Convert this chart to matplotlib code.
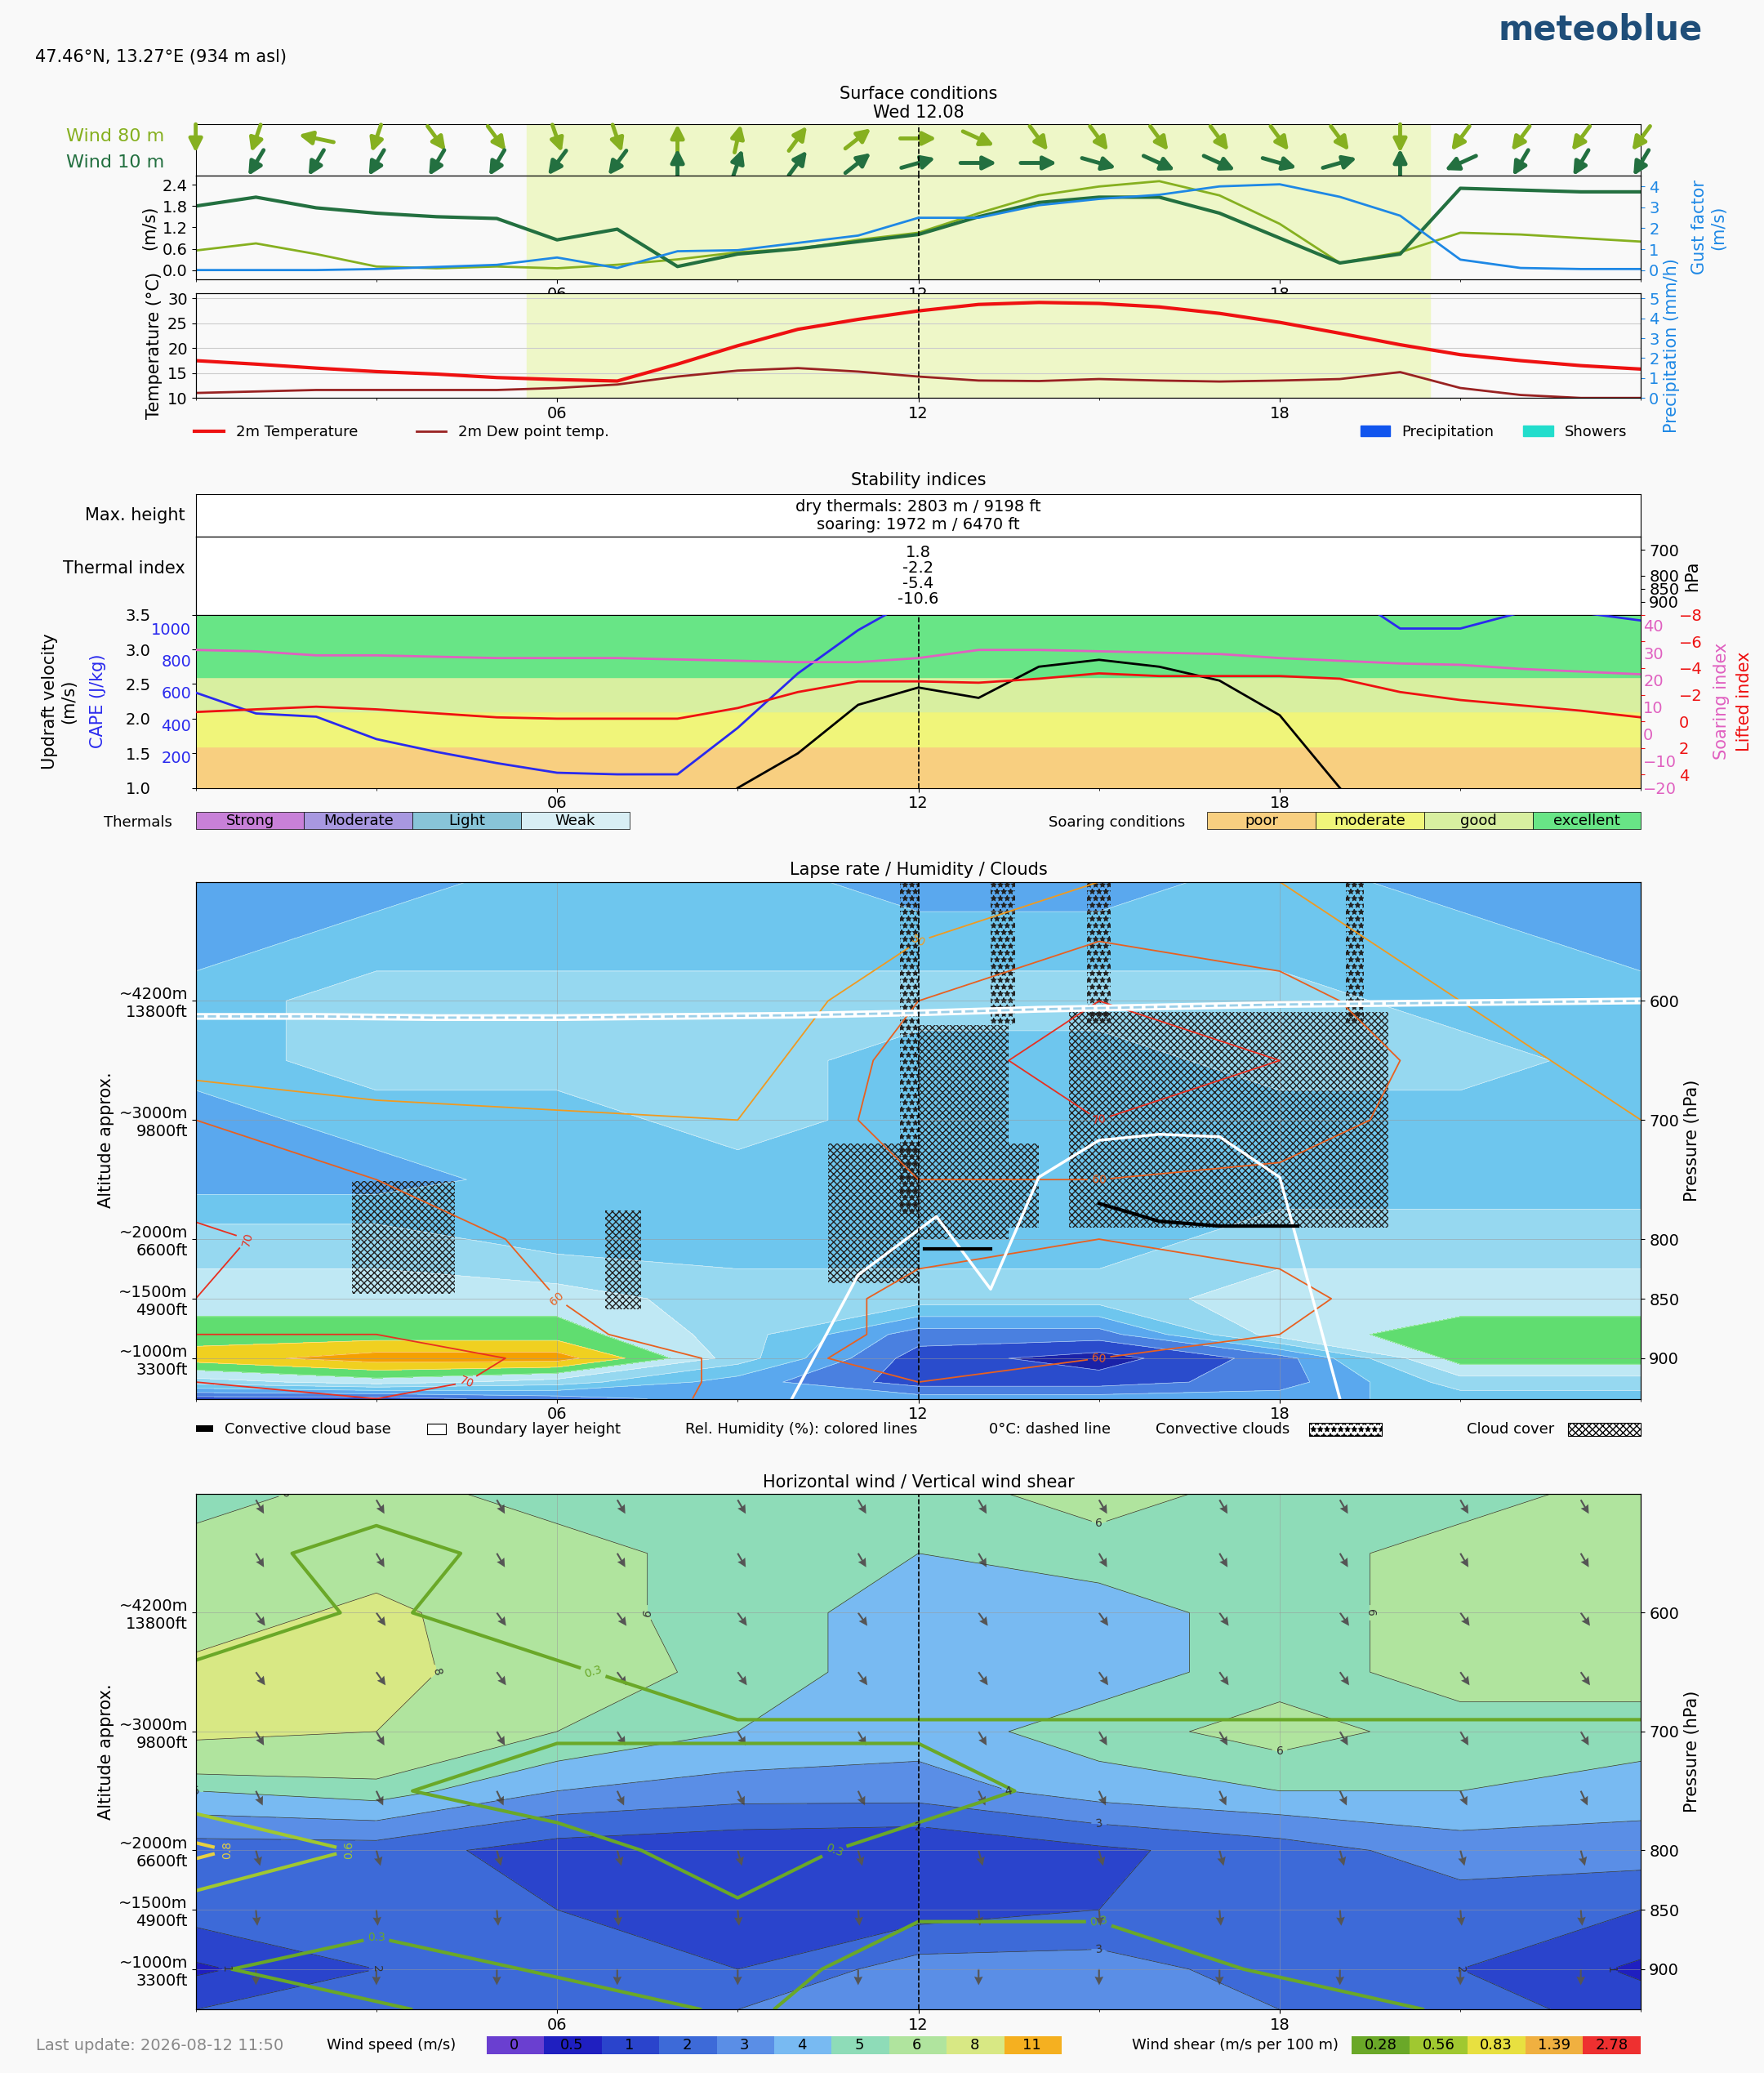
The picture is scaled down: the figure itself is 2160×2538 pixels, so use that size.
import numpy as np
import matplotlib
matplotlib.use("Agg")
import matplotlib.pyplot as plt
from matplotlib.patches import Rectangle, Patch

plt.rcParams['font.family'] = ['DejaVu Sans']
FS = 14

hours = list(range(25))
wind10 = [1.8,2.05,1.75,1.6,1.5,1.45,0.85,1.15,0.1,0.45,0.6,0.8,1.0,1.5,1.9,2.05,2.05,1.6,0.9,0.2,0.45,2.3,2.25,2.2,2.2]
wind80 = [0.55,0.75,0.45,0.1,0.05,0.1,0.05,0.15,0.3,0.5,0.6,0.85,1.05,1.6,2.1,2.35,2.5,2.1,1.3,0.2,0.5,1.05,1.0,0.9,0.8]
gust = [0,0,0,0.05,0.15,0.25,0.6,0.1,0.9,0.95,1.3,1.65,2.5,2.5,3.1,3.4,3.6,4.0,4.1,3.5,2.6,0.5,0.1,0.05,0.05]
dir80 = [270,255,165,255,300,300,285,285,90,80,60,45,0,330,300,300,300,300,300,300,270,240,240,240,240]
dir10 = [245,245,245,245,245,245,240,240,90,75,60,45,20,0,0,340,330,330,340,20,90,210,245,245,245]
temp = [17.5,16.8,16,15.3,14.8,14.1,13.7,13.4,16.8,20.5,23.8,25.8,27.5,28.8,29.2,29.0,28.3,27.0,25.2,23.0,20.7,18.7,17.5,16.5,15.8]
dew = [11,11.3,11.6,11.6,11.6,11.6,12,12.7,14.3,15.5,16,15.3,14.3,13.5,13.4,13.8,13.5,13.3,13.5,13.8,15.2,12,10.6,10,10]
cape = [600,470,450,310,230,160,100,90,90,380,720,990,1200,1300,1300,1300,1300,1300,1300,1250,1000,1000,1100,1100,1050]
soaring = [31,30.5,29,29,28.5,28,28,28,27.5,27,26.5,26.5,28,31,31,30.5,30,29.5,28,27,26,25.5,24,23,22]
lifted = [-0.7,-0.9,-1.1,-0.9,-0.6,-0.3,-0.2,-0.2,-0.2,-1,-2.2,-3.0,-3.0,-2.9,-3.2,-3.6,-3.4,-3.4,-3.4,-3.2,-2.2,-1.6,-1.2,-0.8,-0.3]
upd_h = [9,10,11,12,13,14,15,16,17,18,19]
updraft = [1.0,1.5,2.2,2.45,2.3,2.75,2.85,2.75,2.55,2.05,1.0]

plev = [500,550,600,650,700,750,800,850,880,900,920,934]
lhours = [0,3,6,9,12,15,18,21,24]
lapse = np.array([
 [3,3,4,4,3,3,4,3,3],
 [3,4,4,4,4,4,4,4,3],
 [4,5,5,5,5,5,5,4,4],
 [4,5,5,5,4,4,5,5,4],
 [3,4,4,5,4,4,4,4,4],
 [3,3,4,4,4,4,4,4,4],
 [5,5,4,4,4,4,5,5,5],
 [6,6,6,5,5,5,6,6,6],
 [7,7,7,5,2,2,6,7,7],
 [8,9,9,5,1,0,2,7,7],
 [5,6,5,3,1,1,2,5,5],
 [1,1,2,3,3,3,3,4,4]])
rh = np.array([
 [30,30,30,30,40,50,50,40,30],
 [30,30,30,35,50,60,55,45,35],
 [35,35,35,40,60,70,65,50,40],
 [45,40,40,45,65,75,70,55,45],
 [60,55,52,50,65,70,65,55,50],
 [65,60,55,55,60,60,58,55,52],
 [72,65,58,55,58,60,58,55,52],
 [70,65,60,55,62,65,62,55,52],
 [70,70,62,55,62,62,60,55,52],
 [72,75,68,58,62,60,58,55,52],
 [70,72,68,58,60,58,56,54,52],
 [68,70,66,58,58,56,55,54,52]])
fz_h = [0,2,4,6,8,10,12,14,16,18,20,22,24]
fz_p = [613,613,614,614,613,612,610,607,605,603,602,601,600]
blh_h = [9.9,11,12.3,13.2,14,15,16,17,18,19]
blh_p = [934,830,781,842,748,717,712,714,748,934]

wplev = [500,550,600,650,700,750,800,850,900,934]
wspd = np.array([
 [5.5,6.5,5.5,5.5,5.5,6.5,5.5,5.5,6.5],
 [6.5,7,6.5,5.5,5,5.5,5.5,6.5,6.5],
 [7,8.5,6.5,5.5,4.5,4.5,5.5,6.5,6.5],
 [8.5,8.5,7,5.5,4.5,4.5,5.5,6.5,6.5],
 [8.5,8,6,5,4.5,5.5,6.5,5.5,5.5],
 [5,5.5,4,3.5,3.5,4.5,5,5,4.5],
 [2.5,2.5,1.5,1.2,1.0,1.8,2.5,3.5,3.5],
 [2.5,2.5,2,1.5,1.5,2,2.5,2.5,2],
 [0.8,2,2.5,2,3.5,3.5,2.5,2,0.8],
 [2,2.5,2.5,3,3.5,3.5,3,2.5,1.5]])
shear = np.array([
 [0.1,0.2,0.1,0.1,0.1,0.1,0.1,0.1,0.1],
 [0.2,0.35,0.2,0.1,0.1,0.1,0.1,0.1,0.1],
 [0.2,0.3,0.2,0.1,0.1,0.1,0.1,0.1,0.1],
 [0.3,0.35,0.3,0.2,0.2,0.2,0.2,0.2,0.2],
 [0.3,0.3,0.3,0.3,0.3,0.3,0.3,0.3,0.3],
 [0.35,0.3,0.2,0.2,0.2,0.35,0.4,0.3,0.3],
 [0.9,0.5,0.35,0.2,0.35,0.3,0.3,0.4,0.4],
 [0.4,0.35,0.3,0.3,0.3,0.3,0.3,0.4,0.35],
 [0.3,0.2,0.3,0.35,0.2,0.2,0.3,0.3,0.35],
 [0.35,0.3,0.2,0.3,0.2,0.2,0.2,0.3,0.4]])
arrow_h = [1,3,5,7,9,11,13,15,17,19,21,23]
arrow_p = [505,550,600,650,700,750,800,850,900]
arrow_dir = [-60,-60,-55,-55,-60,-65,-75,-85,-90]

W, H = 1334, 1568
fig = plt.figure(figsize=(21.6, 25.38), dpi=100, facecolor='#f9f9f9')
def rect(y0, y1):
    return [148/W, 1 - y1/H, (1241-148)/W, (y1-y0)/H]

def xsetup(ax, labels=True):
    ax.set_xlim(0, 24)
    ax.set_xticks([6, 12, 18])
    ax.set_xticklabels(['06', '12', '18'] if labels else [])
    ax.set_xticks(range(0, 25, 3), minor=True)
    ax.tick_params(labelsize=FS)
    ax.axvline(12, color='k', ls='--', lw=1.2, zorder=20)

fig.text(0.02, 0.97, '47.46°N, 13.27°E (934 m asl)', fontsize=15)
fig.text(0.965, 0.981, 'meteoblue', fontsize=30, color='#1f4e79', ha='right', weight='bold')

# arrows panel
ax = fig.add_axes(rect(94, 133)); ax.set_facecolor('#f9f9f9')
ax.axvspan(5.5, 20.5, color='#eef7c8')
xsetup(ax, False); ax.set_ylim(0, 2); ax.set_yticks([])
for h, d80, d10 in zip(hours, dir80, dir10):
    for y, d, c in [(1.45, d80, '#86b020'), (0.5, d10, '#237040')]:
        r = np.deg2rad(d)
        ax.annotate('', xy=(h + 0.3*np.cos(r), y + 0.55*np.sin(r)), xytext=(h - 0.3*np.cos(r), y - 0.55*np.sin(r)),
                    arrowprops=dict(arrowstyle='-|>', color=c, lw=3.5, mutation_scale=24, shrinkA=0, shrinkB=0))
ax.set_title('Surface conditions\nWed 12.08', fontsize=15)
fig.text(124/W, 1-103/H, 'Wind 80 m', color='#86b020', fontsize=16, ha='right', va='center')
fig.text(124/W, 1-123/H, 'Wind 10 m', color='#237040', fontsize=16, ha='right', va='center')

# wind speed
ax = fig.add_axes(rect(133, 211)); ax.set_facecolor('#f9f9f9')
ax.axvspan(5.5, 20.5, color='#eef7c8')
xsetup(ax)
ax.plot(hours, wind80, color='#86b020', lw=2)
ax.plot(hours, wind10, color='#237040', lw=3)
ax.set_ylim(-0.25, 2.65); ax.set_yticks([0, 0.6, 1.2, 1.8, 2.4]); ax.set_yticklabels(['0.0','0.6','1.2','1.8','2.4'])
ax.set_ylabel('(m/s)', fontsize=15)
ax2 = ax.twinx(); ax2.plot(hours, gust, color='#1e88e5', lw=2)
ax2.set_ylim(-0.25*1.7, 2.65*1.7); ax2.set_yticks([0,1,2,3,4])
ax2.tick_params(labelsize=FS, colors='#1e88e5')
ax2.set_ylabel('Gust factor\n(m/s)', color='#1e88e5', fontsize=15)
ax2.yaxis.set_label_coords(1.035, 0.5)

# temperature
ax = fig.add_axes(rect(222, 301)); ax.set_facecolor('#f9f9f9')
ax.axvspan(5.5, 20.5, color='#eef7c8')
xsetup(ax)
l1, = ax.plot(hours, temp, color='#ee1111', lw=3, label='2m Temperature')
l2, = ax.plot(hours, dew, color='#992222', lw=2, label='2m Dew point temp.')
ax.set_ylim(10, 31); ax.set_yticks([10,15,20,25,30]); ax.grid(axis='y', color='#cccccc')
ax.set_ylabel('Temperature (°C)', fontsize=15)
ax2 = ax.twinx(); ax2.set_ylim(0, 5.25); ax2.set_yticks([0,1,2,3,4,5])
ax2.tick_params(labelsize=FS, colors='#1e88e5')
ax2.set_ylabel('Precipitation (mm/h)', color='#1e88e5', fontsize=15)
ax.legend(handles=[l1, l2], loc='upper left', bbox_to_anchor=(-0.01, -0.13), ncol=2, frameon=False, fontsize=13, columnspacing=4)
fig.legend(handles=[Patch(color='#1155ee', label='Precipitation'), Patch(color='#22ddcc', label='Showers')],
           loc='upper right', bbox_to_anchor=(0.93, 1-311/H), ncol=2, frameon=False, fontsize=13)

# stability text boxes
ax = fig.add_axes(rect(374, 406)); ax.set_xticks([]); ax.set_yticks([]); ax.set_facecolor('white')
ax.text(0.5, 0.5, 'dry thermals: 2803 m / 9198 ft\nsoaring: 1972 m / 6470 ft', ha='center', va='center', fontsize=14, transform=ax.transAxes)
ax.set_title('Stability indices', fontsize=15, pad=8)
fig.text(140/W, 1-390/H, 'Max. height', fontsize=15, ha='right', va='center')
ax = fig.add_axes(rect(406, 465)); ax.set_xticks([]); ax.set_facecolor('white')
ax.text(0.5, 0.5, '1.8\n-2.2\n-5.4\n-10.6', ha='center', va='center', fontsize=14, transform=ax.transAxes, linespacing=1.0)
ax.set_yticks([]); ax.set_ylim(0, 1)
axr = ax.twinx(); axr.set_ylim(950, 650); axr.set_yticks([700,800,850,900]); axr.tick_params(labelsize=FS)
axr.set_ylabel('hPa', fontsize=15)
fig.text(140/W, 1-430/H, 'Thermal index', fontsize=15, ha='right', va='center')

ax = fig.add_axes(rect(465, 596))
for lo, hi, c in [(1.0,1.6,'#f8cf80'),(1.6,2.1,'#f0f57a'),(2.1,2.6,'#d8efa0'),(2.6,3.5,'#68e586')]:
    ax.axhspan(lo, hi, color=c)
xsetup(ax)
ax.set_ylim(1.0, 3.5); ax.set_yticks([1.0,1.5,2.0,2.5,3.0,3.5])
ax.tick_params(axis='y', pad=36)
ax.set_ylabel('Updraft velocity\n(m/s)', fontsize=15)
ax.yaxis.set_label_coords(-0.082, 0.5)
ax.plot(upd_h, updraft, color='k', lw=2, zorder=5)
axc = ax.twinx(); axc.set_ylim(5, 1086)
axc.plot(hours, cape, color='#2a2aee', lw=2)
axc.yaxis.set_ticks_position('left'); axc.yaxis.set_label_position('left')
axc.set_yticks([200,400,600,800,1000]); axc.tick_params(colors='#2a2aee', labelsize=FS, length=0, pad=4)
axc.set_ylabel('CAPE (J/kg)', color='#2a2aee', fontsize=15)
axc.yaxis.set_label_coords(-0.062, 0.5)
axs = ax.twinx(); axs.set_ylim(-20, 44)
axs.plot(hours, soaring, color='#e060c0', lw=2)
axs.set_yticks([-20,-10,0,10,20,30,40]); axs.tick_params(colors='#e060c0', labelsize=FS, length=0, pad=2)
axs.set_ylabel('Soaring index', color='#e060c0', fontsize=15)
axs.yaxis.set_label_coords(1.05, 0.5)
axl = ax.twinx(); axl.set_ylim(5, -8)
axl.plot(hours, lifted, color='#ee1111', lw=2)
axl.set_yticks([-8,-6,-4,-2,0,2,4]); axl.tick_params(colors='#ee1111', labelsize=FS, pad=30)
axl.set_ylabel('Lifted index', color='#ee1111', fontsize=15)
axl.yaxis.set_label_coords(1.066, 0.5)
for a in (axc, axs, axl):
    a.spines[:].set_visible(False)

fig.text(130/W, 1-622/H, 'Thermals', fontsize=13, ha='right', va='center')
tc = ['#c880d8','#a898e0','#88c4d8','#d8eef4']; tl = ['Strong','Moderate','Light','Weak']
for i, (c, l) in enumerate(zip(tc, tl)):
    x0 = 148 + i*82
    fig.patches.append(Rectangle((x0/W, 1-627/H), 82/W, 13/H, transform=fig.transFigure, fc=c, ec='k', lw=0.5))
    fig.text((x0+41)/W, 1-621/H, l, fontsize=13, ha='center', va='center')
fig.text(896/W, 1-622/H, 'Soaring conditions', fontsize=13, ha='right', va='center')
sc = ['#f8cf80','#f0f57a','#d8efa0','#68e586']; sl = ['poor','moderate','good','excellent']
for i, (c, l) in enumerate(zip(sc, sl)):
    x0 = 913 + i*82
    fig.patches.append(Rectangle((x0/W, 1-627/H), 82/W, 13/H, transform=fig.transFigure, fc=c, ec='k', lw=0.5))
    fig.text((x0+41)/W, 1-621/H, l, fontsize=13, ha='center', va='center')

def pres_axes(ax):
    ax.set_ylim(934, 500)
    ax.set_yticks([600,700,800,850,900])
    ax.set_yticklabels(['~4200m\n13800ft','~3000m\n9800ft','~2000m\n6600ft','~1500m\n4900ft','~1000m\n3300ft'])
    ax.set_ylabel('Altitude approx.', fontsize=15)
    ar = ax.twinx(); ar.set_ylim(934, 500); ar.set_yticks([600,700,800,850,900]); ar.tick_params(labelsize=FS)
    ar.set_ylabel('Pressure (hPa)', fontsize=15)
    ax.grid(color='#999999', lw=0.6, alpha=0.6)

# lapse rate
ax = fig.add_axes(rect(667, 1058))
lcols = ['#1a22a8','#2a4ccc','#4a80e0','#5aa8ee','#6ec6ee','#96d8f0','#bfe8f4','#60dd70','#f0d020','#f5a000']
ax.contourf(lhours, plev, lapse, levels=np.arange(-0.5, 10.5, 1), colors=lcols)
ax.contour(lhours, plev, lapse, levels=np.arange(-0.5, 10.5, 1), colors='white', linewidths=0.5, alpha=0.6)
cs = ax.contour(lhours, plev, rh, levels=[50,60,70,80], colors=['#f09a20','#e86020','#e83020','#d01010'], linewidths=1.3)
ax.clabel(cs, fontsize=10, fmt='%d')
xsetup(ax); pres_axes(ax)
ax.plot(fz_h, fz_p, color='white', lw=6)
ax.plot(fz_h, fz_p, color='#9ccfe8', lw=2, ls='--')
ax.plot(blh_h, blh_p, color='white', lw=2.5)
for (h0, h1, p0, p1) in [(2.6,4.3,751,846),(6.8,7.4,776,859),(10.5,12,720,837),(12,13.5,620,800),(13.5,14.0,720,790),(14.5,19.8,609,790)]:
    ax.fill_between([h0, h1], p0, p1, facecolor='none', hatch='xxxx', edgecolor='#222222', lw=0)
for (h0, h1, p1) in [(11.7,12.0,780),(13.2,13.6,620),(14.8,15.2,620),(19.1,19.4,620)]:
    ax.fill_between([h0, h1], 500, p1, facecolor='none', hatch='**', edgecolor='#222222', lw=0)
ax.plot([15,16,17,18.3], [770,785,789,789], color='k', lw=3)
ax.plot([12.1,13.2], [808,808], color='k', lw=3)
ax.set_title('Lapse rate / Humidity / Clouds', fontsize=15)
ly = 1 - 1081/H
fig.text(170/W, ly, 'Convective cloud base', fontsize=13, va='center')
fig.patches.append(Rectangle((148/W, ly-2/H), 13/W, 5/H, transform=fig.transFigure, fc='k'))
fig.text(345/W, ly, 'Boundary layer height', fontsize=13, va='center')
fig.patches.append(Rectangle((323/W, ly-4/H), 14/W, 8/H, transform=fig.transFigure, fc='white', ec='k', lw=0.8))
fig.text(518/W, ly, 'Rel. Humidity (%): colored lines', fontsize=13, va='center')
fig.text(748/W, ly, '0°C: dashed line', fontsize=13, va='center')
fig.text(874/W, ly, 'Convective clouds', fontsize=13, va='center')
fig.patches.append(Rectangle((990/W, ly-5/H), 55/W, 10/H, transform=fig.transFigure, fc='white', ec='k', lw=0.8, hatch='**'))
fig.text(1109/W, ly, 'Cloud cover', fontsize=13, va='center')
fig.patches.append(Rectangle((1186/W, ly-5/H), 55/W, 10/H, transform=fig.transFigure, fc='white', ec='k', lw=0.8, hatch='xxxx'))

# horizontal wind
ax = fig.add_axes(rect(1130, 1520))
wlev = [0,0.5,1,2,3,4,5,6,8,11,20]
wcols = ['#6a3fd0','#1f1fc0','#2a44cc','#3d6ad8','#5a8ee6','#78baf2','#8edcb8','#b0e49e','#d8e884','#f5b020']
ax.contourf(lhours, wplev, wspd, levels=wlev, colors=wcols)
cw = ax.contour(lhours, wplev, wspd, levels=wlev[:-1], colors='#333333', linewidths=0.5)
ax.clabel(cw, fontsize=10, fmt='%g')
cs = ax.contour(lhours, wplev, shear, levels=[0.28,0.56,0.83], colors=['#6aa828','#a0c830','#e8d040'], linewidths=3)
ax.clabel(cs, fontsize=10, fmt='%.1f')
xsetup(ax); pres_axes(ax)
HH, PP = np.meshgrid(arrow_h, arrow_p)
ang = np.deg2rad(np.repeat(np.array(arrow_dir)[:, None], len(arrow_h), axis=1))
ax.quiver(HH, PP, np.cos(ang), np.sin(ang), color='#555555', scale=90, width=0.0012, headwidth=5, headlength=5)
ax.set_title('Horizontal wind / Vertical wind shear', fontsize=15)
ly = 1 - 1547/H
fig.text(27/W, ly, 'Last update: 2026-08-12 11:50', fontsize=14, color='#888888', va='center')
fig.text(345/W, ly, 'Wind speed (m/s)', fontsize=13, va='center', ha='right')
wl = ['0','0.5','1','2','3','4','5','6','8','11']
for i, (c, l) in enumerate(zip(wcols, wl)):
    x0 = 368 + i*43.5
    fig.patches.append(Rectangle((x0/W, ly-7/H), 43.5/W, 14/H, transform=fig.transFigure, fc=c))
    fig.text((x0+21)/W, ly, l, fontsize=13, ha='center', va='center')
fig.text(1012/W, ly, 'Wind shear (m/s per 100 m)', fontsize=13, va='center', ha='right')
scols = ['#6aa828','#a0c830','#e8e040','#f0b040','#ee3030']; sl = ['0.28','0.56','0.83','1.39','2.78']
for i, (c, l) in enumerate(zip(scols, sl)):
    x0 = 1022 + i*43.8
    fig.patches.append(Rectangle((x0/W, ly-7/H), 43.8/W, 14/H, transform=fig.transFigure, fc=c))
    fig.text((x0+22)/W, ly, l, fontsize=13, ha='center', va='center')

fig.savefig('out.png', dpi=100, facecolor=fig.get_facecolor())
